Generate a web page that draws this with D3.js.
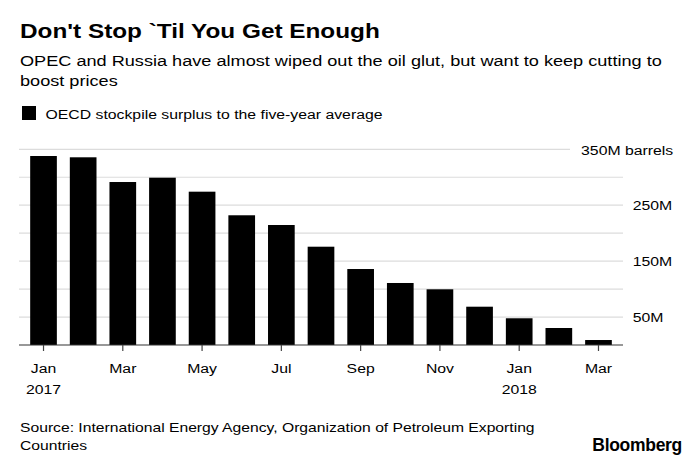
<!DOCTYPE html>
<html>
<head>
<meta charset="utf-8">
<script src="https://cdn.jsdelivr.net/npm/d3@7"></script>
<style>
  html, body { margin: 0; padding: 0; background: #fff; }
  svg { display: block; font-family: "Liberation Sans", Arial, Helvetica, sans-serif; }
</style>
</head>
<body>
<svg id="chart" width="700" height="463"></svg>
<script>
// ---- data ----
const months = ["2017-01","2017-02","2017-03","2017-04","2017-05","2017-06","2017-07","2017-08",
                "2017-09","2017-10","2017-11","2017-12","2018-01","2018-02","2018-03"];
const surplus = [338, 335.7, 291.5, 299.2, 274.2, 232, 214.6, 175.8, 135.9, 110.9, 99.6, 68.5, 47.8, 30.4, 8.9];
const xTickMonths = ["2017-01","2017-03","2017-05","2017-07","2017-09","2017-11","2018-01","2018-03"];
const xTickLabels = [["Jan","2017"],["Mar"],["May"],["Jul"],["Sep"],["Nov"],["Jan","2018"],["Mar"]];
const yGridValues = [50, 100, 150, 200, 250, 300, 350];
const yTickValues = [50, 150, 250, 350];
const yTickLabels = ["50M", "150M", "250M", "350M barrels"];
const title = "Don't Stop `Til You Get Enough";
const subtitle = ["OPEC and Russia have almost wiped out the oil glut, but want to keep cutting to", "boost prices"];
const legendLabel = "OECD stockpile surplus to the five-year average";
const source = ["Source: International Energy Agency, Organization of Petroleum Exporting", "Countries"];

// ---- layout ----
const K = 1.17; // horizontal text stretch of the reference
const svg = d3.select("#chart");
const plotLeft = 19, plotRight = 623, baseY = 345, topY = 149.3;

const x = d3.scaleBand().domain(months).range([plotLeft, plotRight]).paddingInner(0.327).paddingOuter(0.282);
const y = d3.scaleLinear().domain([0, 350]).range([baseY, topY]);

function stretchedText(g, tx, ty, str, size, weight, anchor) {
  return g.append("text")
    .attr("transform", `translate(${tx},${ty}) scale(${K},1)`)
    .attr("font-size", size)
    .attr("font-weight", weight || "normal")
    .attr("text-anchor", anchor || "start")
    .attr("fill", "#000")
    .text(str);
}

// title + subtitle
stretchedText(svg, 20, 38, title, 20.8, "bold");
subtitle.forEach((s, i) => stretchedText(svg, 20, 66 + i * 20, s, 15.5));

// legend
svg.append("rect").attr("x", 22).attr("y", 106).attr("width", 14).attr("height", 14).attr("fill", "#000");
stretchedText(svg, 45.5, 119, legendLabel, 13.5);

// gridlines
svg.append("g").selectAll("line").data(yGridValues).join("line")
  .attr("x1", plotLeft)
  .attr("x2", d => d === 350 ? 570 : plotRight)
  .attr("y1", d => y(d)).attr("y2", d => y(d))
  .attr("stroke", "#dcdcdc").attr("stroke-width", 1.2);

// bars
svg.append("g").selectAll("rect").data(months).join("rect")
  .attr("x", d => x(d))
  .attr("width", x.bandwidth())
  .attr("y", (d, i) => y(surplus[i]))
  .attr("height", (d, i) => y(0) - y(surplus[i]))
  .attr("fill", "#000");

// baseline
svg.append("line").attr("x1", plotLeft).attr("x2", plotRight).attr("y1", baseY).attr("y2", baseY)
  .attr("stroke", "#333").attr("stroke-width", 1.2);

// x axis
const xAxis = d3.axisBottom(x).tickValues(xTickMonths).tickSize(6).tickSizeOuter(0).tickFormat("");
const gx = svg.append("g").attr("transform", `translate(0,${baseY})`).call(xAxis);
gx.select(".domain").remove();
gx.selectAll(".tick line").attr("stroke", "#444").attr("stroke-width", 1.2);
gx.selectAll(".tick").each(function(d, i) {
  const t = d3.select(this).append("text")
    .attr("transform", `scale(${K},1)`)
    .attr("text-anchor", "middle")
    .attr("font-size", 13.5)
    .attr("fill", "#000");
  xTickLabels[i].forEach((s, j) => {
    t.append("tspan").attr("x", 0).attr("y", 27.7 + j * 21.3).text(s);
  });
});

// y axis (right)
const yAxis = d3.axisRight(y).tickValues(yTickValues).tickSize(0).tickPadding(0)
  .tickFormat((d, i) => yTickLabels[i]);
const gy = svg.append("g").attr("transform", "translate(632.7,0)").call(yAxis);
gy.select(".domain").remove();
gy.selectAll(".tick text")
  .attr("font-size", 13.5)
  .attr("fill", "#000")
  .attr("x", 0)
  .attr("dy", "0.35em")
  .attr("transform", `scale(${K},1)`);
gy.selectAll(".tick").filter(d => d === 350).select("text")
  .attr("text-anchor", "end")
  .attr("x", 40.5 / K);
gy.attr("font-family", null).attr("font-size", null);

// source + logo
source.forEach((s, i) => stretchedText(svg, 20, 431.7 + i * 18.5, s, 13.4));
svg.append("text").attr("x", 682).attr("y", 450.5).attr("text-anchor", "end")
  .attr("font-size", 17.5).attr("font-weight", "bold").attr("letter-spacing", -0.3)
  .attr("fill", "#000").text("Bloomberg");
</script>
</body>
</html>
